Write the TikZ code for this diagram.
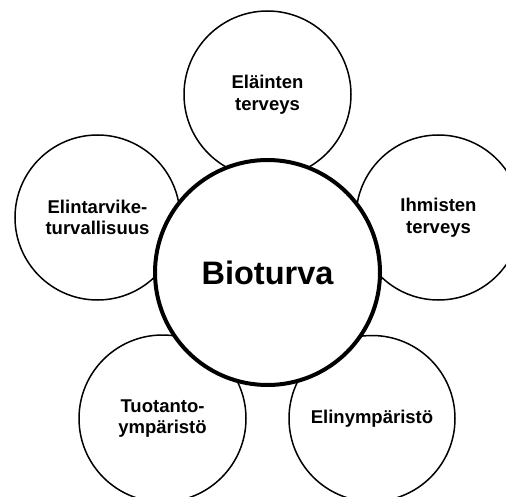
\documentclass[tikz,border=0pt]{standalone}
\usepackage{fontspec}
\setmainfont{Liberation Sans}
\begin{document}
\begin{tikzpicture}[x=1pt,y=-1pt,
  outer/.style={circle,draw=black,fill=white,line width=1.5pt,inner sep=0pt,align=center,
    font=\bfseries\fontsize{18.5}{21.5}\selectfont},
  core/.style={circle,draw=black,fill=white,line width=4pt,inner sep=0pt,align=center,
    font=\bfseries\fontsize{32.5}{36}\selectfont}]
\useasboundingbox (0,0) rectangle (506,497);
\clip (0,0) rectangle (506,497);
\node[outer,minimum size=167pt] (top) at (267.5,94.5) {Eläinten\\terveys};
\node[outer,minimum size=165pt] (left) at (97.5,217.5) {Elintarvike-\\turvallisuus};
\node[outer,minimum size=165pt] (right) at (438.5,217.5) {Ihmisten\\terveys};
\node[outer,minimum size=167pt] (bl) at (162.5,418.5) {Tuotanto-\\ympäristö};
\node[outer,minimum size=166pt] (br) at (372,418.5) {Elinympäristö};
\node[core,minimum size=225pt] (c) at (267.5,272.5) {Bioturva};
\end{tikzpicture}
\end{document}
